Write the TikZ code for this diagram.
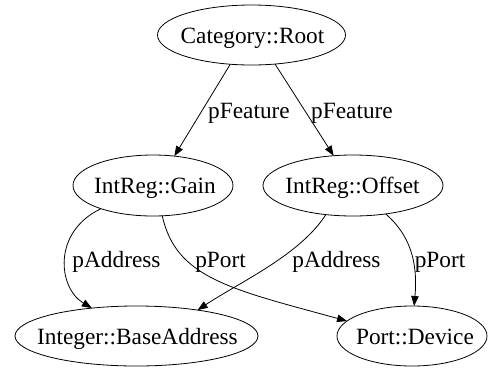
\documentclass[tikz,border=0pt]{standalone}
\usepackage{fontspec}
\setmainfont{Liberation Serif}
\usetikzlibrary{shapes.geometric,arrows.meta}
\begin{document}
\begin{tikzpicture}[x=1pt,y=-1pt,
  ell/.style={draw=black, ellipse, line width=0.8pt, inner sep=0pt, outer sep=0pt},
  txt/.style={inner sep=0pt, anchor=base, font=\fontsize{23.3}{28}\selectfont},
  edge/.style={draw=black, line width=0.8pt, -{Triangle[length=10pt,width=7.5pt]}}]
\useasboundingbox (0,0) rectangle (488,368);
% nodes
\node[ell, minimum width=188pt, minimum height=60pt] (root) at (251.5,35) {};
\node[ell, minimum width=160pt, minimum height=61pt] (gain) at (153,185.5) {};
\node[ell, minimum width=180pt, minimum height=61pt] (off) at (353,185.5) {};
\node[ell, minimum width=243pt, minimum height=60pt] (ba) at (136.5,336) {};
\node[ell, minimum width=150pt, minimum height=60pt] (dev) at (412,336) {};
\node[txt] (root-t) at (252.5,43) {Category::Root};
\node[txt] (gain-t) at (155,193.5) {IntReg::Gain};
\node[txt] (off-t) at (352.5,193.5) {IntReg::Offset};
\node[txt] (ba-t) at (137.5,344) {Integer::BaseAddress};
\node[txt] (dev-t) at (415,344) {Port::Device};
% edges
\draw[edge] (root.234) -- (gain.54);
\draw[edge] (root.309) -- (off.123);
\draw[edge] (gain.204) .. controls (52,232) and (58,288) .. (ba.148);
\draw[edge] (gain.287) .. controls (176,278) and (230,289) .. (dev.167);
\draw[edge] (off.227) .. controls (300,255) and (240,282) .. (ba.23);
\draw[edge] (off.319) .. controls (410,235) and (418,262) .. (dev.86);
% edge labels
\node[txt] (l1) at (249,118) {pFeature};
\node[txt] (l2) at (352,118) {pFeature};
\node[txt] (l3) at (116.5,267) {pAddress};
\node[txt] (l4) at (220.5,267) {pPort};
\node[txt] (l5) at (336.5,267) {pAddress};
\node[txt] (l6) at (440,267) {pPort};
\end{tikzpicture}
\end{document}
